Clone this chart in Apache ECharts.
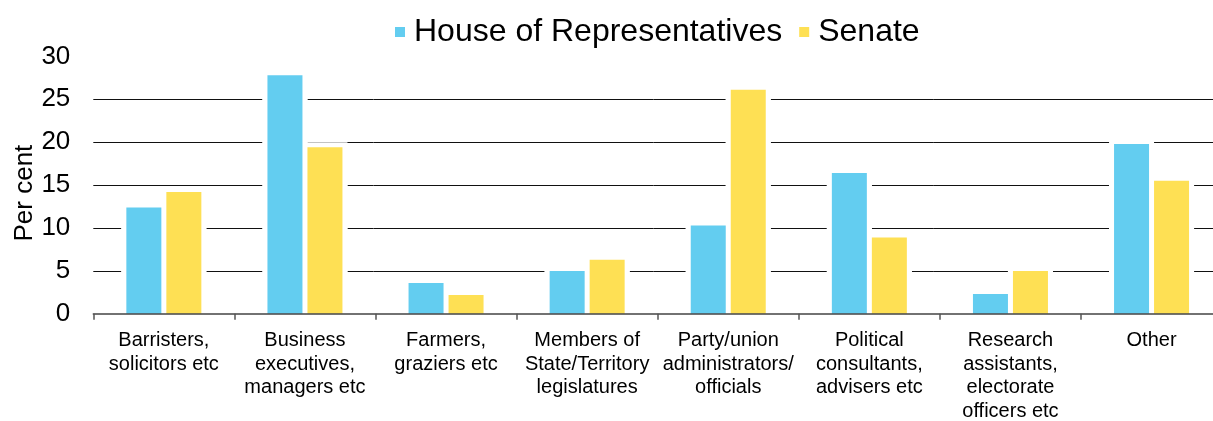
<!DOCTYPE html>
<html>
<head>
<meta charset="utf-8">
<style>
  html, body { margin: 0; padding: 0; background: #fff; }
  #chart { width: 1213px; height: 421px; }
</style>
<script src="https://cdn.jsdelivr.net/npm/echarts@6/dist/echarts.min.js"></script>
</head>
<body>
<div id="chart"></div>
<script>
// Prior occupations of members, by chamber (per cent)
const categories = [
  'Barristers,\nsolicitors etc',
  'Business\nexecutives,\nmanagers etc',
  'Farmers,\ngraziers etc',
  'Members of\nState/Territory\nlegislatures',
  'Party/union\nadministrators/\nofficials',
  'Political\nconsultants,\nadvisers etc',
  'Research\nassistants,\nelectorate\nofficers etc',
  'Other'
];
const houseValues  = [12.4, 27.8, 3.6, 5.0, 10.3, 16.4, 2.3, 19.8];
const senateValues = [14.2, 19.4, 2.2, 6.3, 26.1, 8.9, 5.0, 15.5];
const yTicks = { min: 0, max: 30, interval: 5 };

const FONT = "'Liberation Sans', Arial, sans-serif";
const BLUE = '#63CDF0';
const YELLOW = '#FEE054';

// White halo behind each bar: breaks the gridlines around the bars
function halo(name, values) {
  return {
    name: name + ' halo',
    type: 'bar',
    xAxisIndex: 1,
    data: values,
    barWidth: 45,
    barGap: '-11.11%',
    silent: true,
    legendHoverLink: false,
    itemStyle: {
      color: '#fff',
      shadowColor: '#fff',
      shadowBlur: 0,
      shadowOffsetY: -5
    }
  };
}

function bars(name, values, color) {
  return {
    name: name,
    type: 'bar',
    xAxisIndex: 0,
    data: values,
    barWidth: 35,
    barGap: '14.29%',
    itemStyle: { color: color }
  };
}

const chart = echarts.init(document.getElementById('chart'), null, { renderer: 'canvas' });

chart.setOption({
  animation: false,
  textStyle: { fontFamily: FONT, color: '#000' },
  legend: {
    top: 16,
    left: 395,
    padding: 0,
    itemWidth: 10,
    itemHeight: 10,
    itemGap: 17,
    icon: 'rect',
    textStyle: { fontFamily: FONT, fontSize: 32, color: '#000', padding: [0, 0, 0, 4] },
    data: ['House of Representatives', 'Senate']
  },
  grid: {
    left: 93.3,
    top: 56.4,
    width: 1128.8,
    height: 257.4,
    outerBoundsMode: 'none',
    containLabel: false
  },
  xAxis: [
    {
      type: 'category',
      data: categories,
      z: 10,
      axisLine: { show: true, lineStyle: { color: '#444', width: 1.5 } },
      axisTick: { show: true, length: 6, lineStyle: { color: '#555', width: 1.5 } },
      axisLabel: {
        interval: 0,
        margin: 15,
        fontFamily: FONT,
        fontSize: 20,
        lineHeight: 23.5,
        color: '#000',
        align: 'center'
      },
      splitLine: { show: false }
    },
    {
      type: 'category',
      data: categories,
      show: false,
      position: 'bottom'
    }
  ],
  yAxis: {
    type: 'value',
    min: yTicks.min,
    max: yTicks.max,
    interval: yTicks.interval,
    name: 'Per cent',
    nameLocation: 'middle',
    nameMoveOverlap: false,
    nameGap: 55,
    nameTextStyle: { fontFamily: FONT, fontSize: 26, color: '#000', padding: [0, 16, 0, 0] },
    axisLine: { show: false },
    axisTick: { show: false },
    axisLabel: { margin: 23, fontFamily: FONT, fontSize: 26, color: '#000' },
    splitLine: {
      show: true,
      showMinLine: false,
      showMaxLine: false,
      lineStyle: { color: '#111', width: 1 }
    }
  },
  series: [
    halo('House of Representatives', houseValues),
    halo('Senate', senateValues),
    bars('House of Representatives', houseValues, BLUE),
    bars('Senate', senateValues, YELLOW)
  ]
});
</script>
</body>
</html>
